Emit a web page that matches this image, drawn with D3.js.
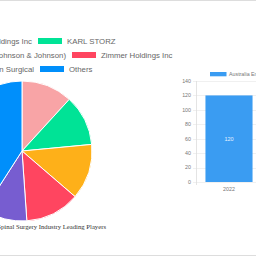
<!DOCTYPE html>
<html>
<head>
<meta charset="utf-8">
<script src="https://cdn.jsdelivr.net/npm/d3@7"></script>
<style>
  body { margin: 0; background: #fff; }
  svg { display: block; }
</style>
</head>
<body>
<div class="chartbox"></div>
<script>
// pie: leading players share
const playerNames = ["Alphatec Holdings Inc", "KARL STORZ", "DePuy Synthes (Johnson & Johnson)",
                     "Zimmer Holdings Inc", "Titan Surgical", "Others"]
const playerShares = [11.8, 11.7, 12.8, 12.6, 10.2, 40.9]
const playerColors = ["#f8a4a6", "#00e396", "#feb019", "#ff4560", "#775dd0", "#008ffb"]

// bar: market size
const barYears = ["2022"]
const barValues = [120]
const barSeriesName = "Australia Endoscopic Spine Surgery"
const yTicks = [0, 20, 40, 60, 80, 100, 120, 140]

const caption = "Australia Spinal Surgery Industry Leading Players"

const w = 256, h = 256
const svg = d3.select(".chartbox").append("svg")
    .attr("width", w)
    .attr("height", h)

// card borders
svg.append("line").attr("x1", 0).attr("x2", w).attr("y1", 0.5).attr("y2", 0.5)
    .attr("stroke", "#ddd")
svg.append("line").attr("x1", 0).attr("x2", w).attr("y1", 255.5).attr("y2", 255.5)
    .attr("stroke", "#ddd")

////// pie //////
const cx = 22, cy = 151, radius = 70
const pie = d3.pie().sort(null).value(d => d)
const arc = d3.arc().innerRadius(0).outerRadius(radius)

svg.append("g")
    .attr("transform", "translate(" + cx + "," + cy + ")")
    .selectAll("path")
    .data(pie(playerShares))
    .enter()
    .append("path")
    .attr("d", arc)
    .attr("fill", (d, i) => playerColors[i])
    .attr("stroke", "#fff")
    .attr("stroke-width", 1)

// legend, two items per row; x of second swatch per row
const legendRows = [[0, 1], [2, 3], [4, 5]]
const rowY = [41, 55, 69]
const rowSwatchX = [38, 72, 40]
let lg = svg.append("g").attr("class", "legend")
legendRows.forEach((row, r) => {
    let sx = rowSwatchX[r]
    let first = row[0], second = row[1]
    // first item: text right-aligned just before the 2nd swatch
    let t = lg.append("text")
        .attr("x", sx - 6).attr("y", rowY[r]).attr("dy", "0.35em")
        .attr("text-anchor", "end")
        .style("font-family", "Liberation Sans, Arial, sans-serif")
        .style("font-size", "7.8px").style("fill", "#666")
        .text(playerNames[first])
    let tw = t.node().getComputedTextLength()
    lg.append("rect").attr("x", sx - 6 - tw - 5 - 24).attr("y", rowY[r] - 3).attr("width", 24).attr("height", 6)
        .attr("fill", playerColors[first])
    lg.append("rect").attr("x", sx).attr("y", rowY[r] - 3).attr("width", 24).attr("height", 6)
        .attr("fill", playerColors[second])
    lg.append("text")
        .attr("x", sx + 29).attr("y", rowY[r]).attr("dy", "0.35em")
        .style("font-family", "Liberation Sans, Arial, sans-serif")
        .style("font-size", "7.8px").style("fill", "#666")
        .text(playerNames[second])
})

svg.append("text")
    .attr("x", 106).attr("y", 229)
    .attr("text-anchor", "end")
    .style("font-family", "Liberation Serif, Times New Roman, serif")
    .style("font-size", "6.7px").style("fill", "#333")
    .text(caption)

////// bar chart //////
const yScale = d3.scaleLinear().domain([0, 140]).range([182, 81])
const xScale = d3.scaleBand().domain(barYears).range([196.3, 261.7])
const barW = xScale.bandwidth() * 0.72
const gridCol = "#e6e6e6"

let gb = svg.append("g")
// horizontal grid
gb.selectAll(".hgrid").data(yTicks).enter().append("line")
    .attr("x1", 193).attr("x2", 261.7)
    .attr("y1", d => Math.round(yScale(d)) + 0.5).attr("y2", d => Math.round(yScale(d)) + 0.5)
    .attr("stroke", gridCol).attr("stroke-width", 0.6)
// vertical axis line
gb.append("line").attr("x1", 196.5).attr("x2", 196.5).attr("y1", 81).attr("y2", 185)
    .attr("stroke", "#ddd").attr("stroke-width", 0.8)
gb.selectAll(".ylab").data(yTicks).enter().append("text")
    .attr("x", 191).attr("y", d => yScale(d)).attr("dy", "0.35em")
    .attr("text-anchor", "end")
    .style("font-family", "Liberation Sans, Arial, sans-serif")
    .style("font-size", "5.3px").style("fill", "#777")
    .text(d => d)

gb.selectAll(".bar").data(barValues).enter().append("rect")
    .attr("x", (d, i) => xScale(barYears[i]) + (xScale.bandwidth() - barW) / 2)
    .attr("y", d => yScale(d))
    .attr("width", barW)
    .attr("height", d => yScale(0) - yScale(d))
    .attr("fill", "#3a9cf2")

gb.selectAll(".blab").data(barValues).enter().append("text")
    .attr("x", (d, i) => xScale(barYears[i]) + xScale.bandwidth() / 2)
    .attr("y", d => (yScale(d) + yScale(0)) / 2).attr("dy", "0.35em")
    .attr("text-anchor", "middle")
    .style("font-family", "Liberation Sans, Arial, sans-serif")
    .style("font-size", "5.5px").style("fill", "#e4f1ff")
    .text(d => d)

gb.selectAll(".xlab").data(barYears).enter().append("text")
    .attr("x", d => xScale(d) + xScale.bandwidth() / 2)
    .attr("y", 189).attr("dy", "0.35em")
    .attr("text-anchor", "middle")
    .style("font-family", "Liberation Sans, Arial, sans-serif")
    .style("font-size", "5.3px").style("fill", "#777")
    .text(d => d)

// bar legend
svg.append("rect").attr("x", 210).attr("y", 72).attr("width", 16.5).attr("height", 4.3)
    .attr("fill", "#3a9cf2")
svg.append("text")
    .attr("x", 229).attr("y", 74.2).attr("dy", "0.35em")
    .style("font-family", "Liberation Sans, Arial, sans-serif")
    .style("font-size", "5.3px").style("fill", "#777")
    .text(barSeriesName)
</script>
</body>
</html>
